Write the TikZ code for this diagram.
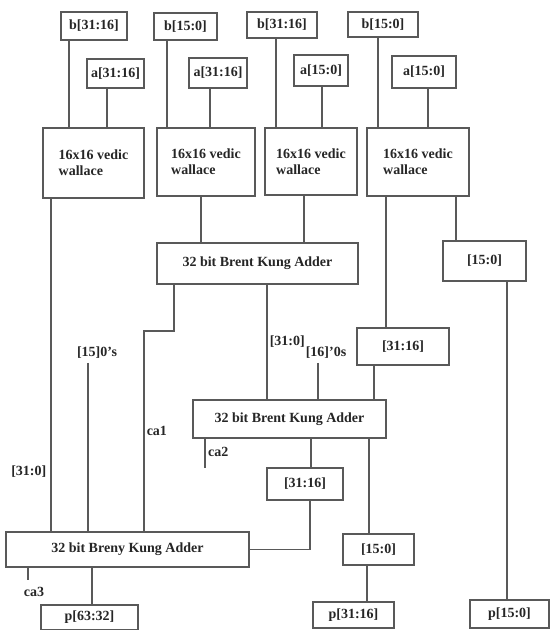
\documentclass[tikz,border=0pt]{standalone}
\usepackage{fontspec}
\setmainfont{Liberation Serif}
\begin{document}
\begin{tikzpicture}[
    x=1pt, y=-1pt,
    wire/.style={line width=1.5pt, draw=black!65},
    box/.style={
        draw=black!65,
        line width=1.5pt,
        fill=white,
        inner sep=0pt,
        align=left,
        font=\fontsize{14}{16}\selectfont\bfseries,
        text=black!85
    },
    lbl/.style={inner sep=0pt, font=\fontsize{14}{16}\selectfont\bfseries, text=black!85}
]
    \useasboundingbox (0,0) rectangle (551,630);

    %------------------------------------------------
    % inputs and 16x16 multipliers
    %------------------------------------------------
    \node[box, minimum width=66pt, minimum height=28pt] (b1) at (94,26)    {b[31:16]};
    \node[box, minimum width=57pt, minimum height=29pt] (a1) at (115.5,73.5) {a[31:16]};
    \node[box, minimum width=101pt, minimum height=70pt] (w1) at (93.5,163) {16x16 vedic\\wallace};

    \node[box, minimum width=63pt, minimum height=27pt] (b2) at (185.5,26.5) {b[15:0]};
    \node[box, minimum width=58pt, minimum height=30pt] (a2) at (218,73)     {a[31:16]};
    \node[box, minimum width=98pt, minimum height=68pt] (w2) at (206,162)    {16x16 vedic\\wallace};

    \node[box, minimum width=70pt, minimum height=26pt] (b3) at (282,25)     {b[31:16]};
    \node[box, minimum width=54pt, minimum height=31pt] (a3) at (321,70.5)   {a[15:0]};
    \node[box, minimum width=92pt, minimum height=67pt] (w3) at (311,161.5)  {16x16 vedic\\wallace};

    \node[box, minimum width=70pt, minimum height=25pt] (b4) at (383,24.5)   {b[15:0]};
    \node[box, minimum width=64pt, minimum height=32pt] (a4) at (424,72)     {a[15:0]};
    \node[box, minimum width=102pt, minimum height=68pt] (w4) at (418,162)   {16x16 vedic\\wallace};

    \draw[wire] (b1.south -| 69,0)  -- (w1.north -| 69,0);
    \draw[wire] (a1.south -| 107,0) -- (w1.north -| 107,0);
    \draw[wire] (b2.south -| 167,0) -- (w2.north -| 167,0);
    \draw[wire] (a2.south -| 210,0) -- (w2.north -| 210,0);
    \draw[wire] (b3.south -| 276,0) -- (w3.north -| 276,0);
    \draw[wire] (a3.south -| 322,0) -- (w3.north -| 322,0);
    \draw[wire] (b4.south -| 378,0) -- (w4.north -| 378,0);
    \draw[wire] (a4.south -| 428,0) -- (w4.north -| 428,0);

    %------------------------------------------------
    % adders and slices
    %------------------------------------------------
    \node[box, minimum width=201pt, minimum height=41pt] (bk1) at (257.5,263.5) {32 bit Brent Kung Adder};
    \node[box, minimum width=83pt, minimum height=40pt]  (s1)  at (484.5,261)   {[15:0]};
    \node[box, minimum width=92pt, minimum height=37pt]  (s2)  at (403,346.5)   {[31:16]};
    \node[box, minimum width=193pt, minimum height=38pt] (bk2) at (289.5,419)   {32 bit Brent Kung Adder};
    \node[box, minimum width=76pt, minimum height=32pt]  (s3)  at (305,484)     {[31:16]};
    \node[box, minimum width=71pt, minimum height=31pt]  (s4)  at (378.5,549.5) {[15:0]};
    \node[box, minimum width=243pt, minimum height=35pt] (bk3) at (127.5,549.5) {32 bit Breny Kung Adder};

    \node[box, minimum width=97pt, minimum height=25pt] (p1) at (89.5,617.5) {p[63:32]};
    \node[box, minimum width=81pt, minimum height=26pt] (p2) at (353.5,615)  {p[31:16]};
    \node[box, minimum width=79pt, minimum height=28pt] (p3) at (509.5,614)  {p[15:0]};

    % zero inputs
    \node[lbl] (z1) at (97,353)  {[15]0's};
    \node[lbl] (z2) at (326,353) {[16]'0s};

    \draw[wire] (w1.south -| 51,0)  -- node[lbl, pos=0.82, left=4pt] {[31:0]} (bk3.north -| 51,0);
    \draw[wire] (w2.south -| 201,0) -- (bk1.north -| 201,0);
    \draw[wire] (w3.south -| 304,0) -- (bk1.north -| 304,0);
    \draw[wire] (w4.south -| 386,0) -- (s2.north -| 386,0);
    \draw[wire] (w4.south -| 456,0) -- (s1.north -| 456,0);
    \draw[wire] (s1.south -| 507,0) -- (p3.north -| 507,0);

    \draw[wire] (bk1.south -| 174,0) -- (174,331) -- (144,331)
        -- node[lbl, pos=0.5, right=2pt] {ca1} (bk3.north -| 144,0);
    \draw[wire] (bk1.south -| 267,0) -- node[lbl, pos=0.5, right=2pt] {[31:0]} (bk2.north -| 267,0);
    \draw[wire] (z2.south -| 318,0) ++(0,4) -- (bk2.north -| 318,0);
    \draw[wire] (s2.south -| 374,0) -- (bk2.north -| 374,0);
    \draw[wire] (z1.south -| 88,0) ++(0,4) -- (bk3.north -| 88,0);

    \coordinate (ca2end) at (205,468);
    \draw[wire] (bk2.south -| ca2end) -- (ca2end);
    \node[lbl, anchor=west] at (208,452) {ca2};

    \draw[wire] (bk2.south -| 311,0) -- (s3.north -| 311,0);
    \draw[wire] (s3.south -| 310,0) |- (bk3.east);
    \draw[wire] (bk2.south -| 369,0) -- (s4.north -| 369,0);
    \draw[wire] (s4.south -| 367,0) -- (p2.north -| 367,0);

    \draw[wire] (bk3.south -| 92,0) -- (p1.north -| 92,0);
    \coordinate (ca3end) at (28,580);
    \draw[wire] (bk3.south -| ca3end) -- (ca3end);
    \node[lbl] at (34,592) {ca3};

\end{tikzpicture}
\end{document}
